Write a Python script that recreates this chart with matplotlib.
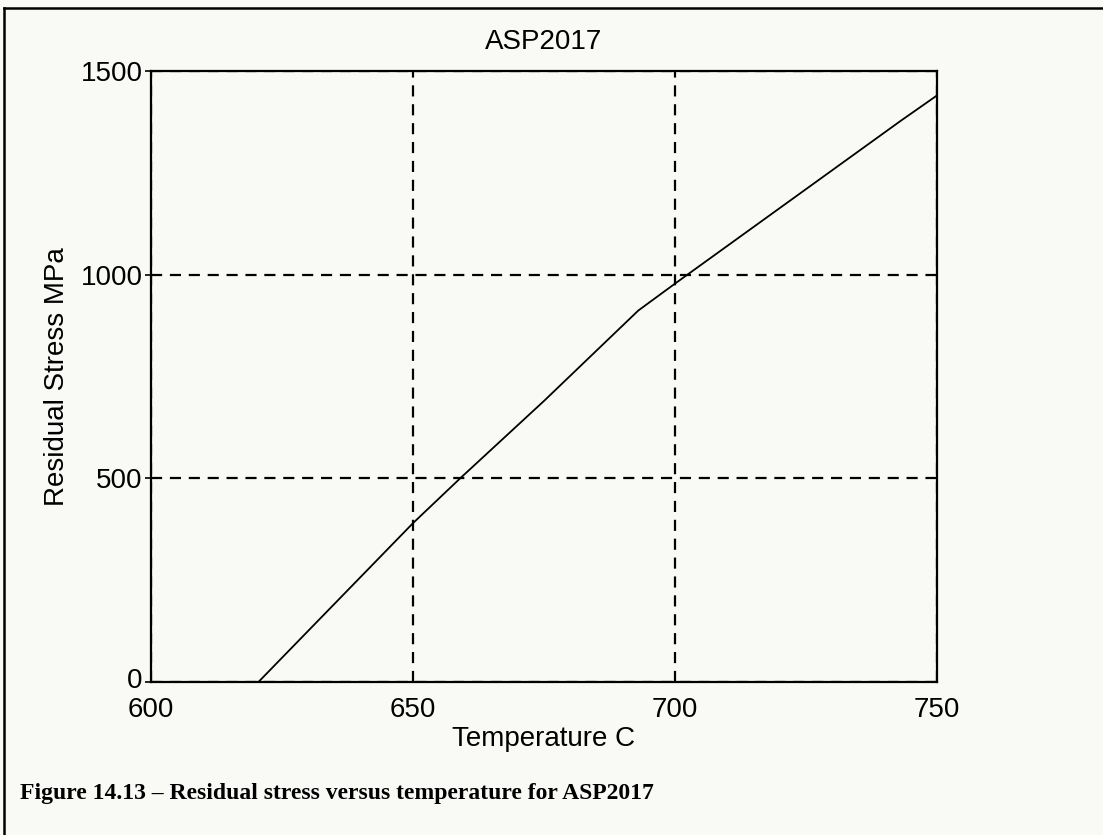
import matplotlib
matplotlib.use("Agg")
import matplotlib.pyplot as plt
from matplotlib.lines import Line2D
from matplotlib.transforms import ScaledTranslation

# Data
temperature = [620.5, 650, 659, 675, 693, 700, 743, 750]
stress = [0, 390, 500, 690, 912, 978, 1377, 1440]

x_ticks = [600, 650, 700, 750]
y_ticks = [0, 500, 1000, 1500]

title = "ASP2017"
xlabel = "Temperature C"
ylabel = "Residual Stress MPa"
caption = "Figure 14.13 \u2013 Residual stress versus temperature for ASP2017"

bg = "#f9f9f6"
fig = plt.figure(figsize=(11.03, 8.35), dpi=100, facecolor=bg)
ax = fig.add_axes([151/1103, 1-682/835, (937-151)/1103, (682-71)/835])
ax.set_facecolor(bg)

sans = ["Liberation Sans", "DejaVu Sans"]
serif = ["Liberation Serif", "DejaVu Serif"]

ax.plot(temperature, stress, color="black", lw=1.3, zorder=3)
ax.set_xlim(600, 750)
ax.set_ylim(0, 1500)
ax.set_xticks(x_ticks)
ax.set_yticks(y_ticks)
ax.grid(True, color="black", linestyle=(0, (5, 3.5)), lw=1.6)
for s in ax.spines.values():
    s.set_linewidth(1.6)
    s.set_color("black")
ax.tick_params(axis="both", direction="out", length=4, width=1.2,
               labelsize=20, colors="black", pad=2)
ax.tick_params(axis="x", length=0, pad=11)
for lab in ax.get_xticklabels() + ax.get_yticklabels():
    lab.set_family(sans)
zero_tick = ax.yaxis.get_major_ticks()[0]
zero_tick.label1.set_transform(zero_tick.label1.get_transform()
                               + ScaledTranslation(0, 4/100, fig.dpi_scale_trans))

ax.set_title(title, fontsize=20, family=sans, pad=16)
ax.set_xlabel(xlabel, fontsize=20, family=sans, labelpad=2)
ax.set_ylabel(ylabel, fontsize=20, family=sans, labelpad=8)

fig.text(20/1103, 1-793/835, caption, fontsize=17, fontweight="bold",
         family=serif, va="center", ha="left")

# page frame lines from the scan
fig.add_artist(Line2D([4/1103, 4/1103], [0, 1-8/835], transform=fig.transFigure,
                      color="black", lw=1.8))
fig.add_artist(Line2D([4/1103, 1], [1-8/835, 1-8/835], transform=fig.transFigure,
                      color="black", lw=1.8))

fig.savefig("out.png", dpi=100, facecolor=bg)
